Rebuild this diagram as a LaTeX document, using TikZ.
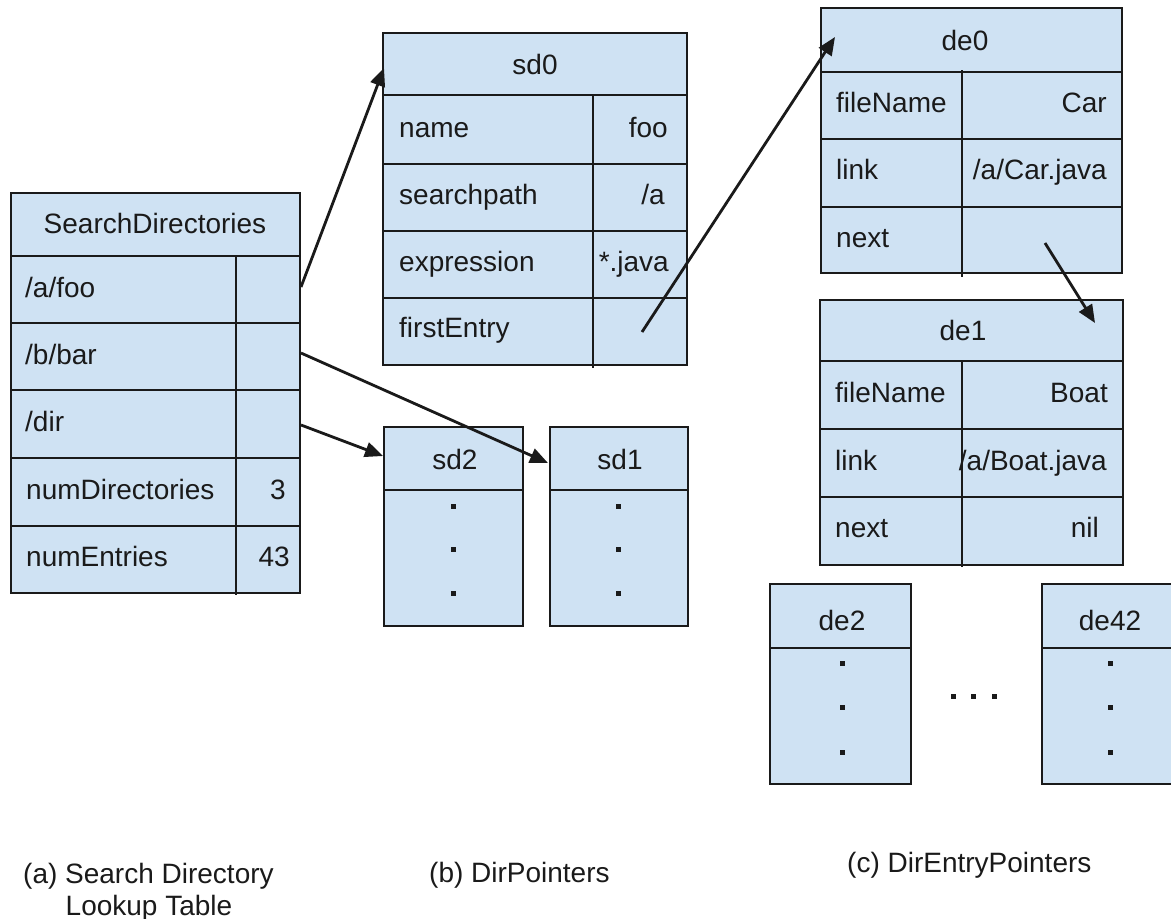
\documentclass[tikz,border=0pt]{standalone}
\usepackage{fontspec}
\setmainfont{Liberation Sans}
\usetikzlibrary{arrows.meta}
\definecolor{boxblue}{HTML}{CFE2F3}
\definecolor{ink}{HTML}{1A1A1A}
\begin{document}
\begin{tikzpicture}[x=1pt,y=-1pt,
  every node/.style={font=\fontsize{28}{32}\selectfont, text=ink},
  box/.style={draw=ink, fill=boxblue, line width=2.8pt, rectangle, inner sep=0pt, outer sep=0pt, anchor=north west},
  rule/.style={draw=ink, line width=2.6pt},
  lab/.style={anchor=base west, inner sep=0pt},
  val/.style={anchor=base east, inner sep=0pt},
  ttl/.style={anchor=base, inner sep=0pt},
  arr/.style={draw=ink, line width=2.8pt, -{Triangle[length=18pt,width=15pt]}},
  dotsq/.style={fill=ink}
]
\useasboundingbox (0,0) rectangle (1171,919);

% ---------- (a) SearchDirectories ----------
\node[box, minimum width=289pt, minimum height=400pt] (SD) at (11,193) {};
\foreach \yy in {256,323,390,458,526} \draw[rule] (11,\yy) -- (300,\yy);
\draw[rule] (236,256) -- (236,595);
\node[ttl] (SDt) at (155,233) {SearchDirectories};
\node[lab] (SDa) at (25,297) {/a/foo};
\node[lab] (SDb) at (25,364) {/b/bar};
\node[lab] (SDc) at (25,431) {/dir};
\node[lab] (SDd) at (26,499) {numDirectories};
\node[lab] (SDe) at (26,566) {numEntries};
\node[val] (SDdv) at (286,499) {3};
\node[val] (SDev) at (290,566) {43};

% ---------- (b) sd0 ----------
\node[box, minimum width=304pt, minimum height=332pt] (SD0) at (383,33) {};
\foreach \yy in {95,164,231,298} \draw[rule] (383,\yy) -- (687,\yy);
\draw[rule] (593,95) -- (593,368);
\node[ttl] (SD0t) at (535,74) {sd0};
\node[lab] (SD0a) at (399,137) {name};
\node[lab] (SD0b) at (399,204) {searchpath};
\node[lab] (SD0c) at (399,271) {expression};
\node[lab] (SD0d) at (399,337) {firstEntry};
\node[val] (SD0av) at (668,137) {foo};
\node[val] (SD0bv) at (665,204) {/a};
\node[val] (SD0cv) at (669,271) {*.java};

% sd2, sd1
\node[box, minimum width=139pt, minimum height=199pt] (SD2) at (384,427) {};
\draw[rule] (384,490) -- (523,490);
\node[ttl] (SD2t) at (455,469) {sd2};
\node[box, minimum width=138pt, minimum height=199pt] (SD1) at (550,427) {};
\draw[rule] (550,490) -- (688,490);
\node[ttl] (SD1t) at (620,469) {sd1};
\foreach \yy in {506,549,593} {
  \fill[dotsq] (450.5,\yy-2.5) rectangle (455.5,\yy+2.5);
  \fill[dotsq] (615.5,\yy-2.5) rectangle (620.5,\yy+2.5);
}

% ---------- (c) de0 ----------
\node[box, minimum width=301pt, minimum height=265pt] (DE0) at (821,8) {};
\foreach \yy in {72,139,207} \draw[rule] (821,\yy) -- (1122,\yy);
\draw[rule] (962,70) -- (962,277);
\node[ttl] (DE0t) at (965,50) {de0};
\node[lab] (DE0a) at (836,112) {fileName};
\node[lab] (DE0b) at (836,179) {link};
\node[lab] (DE0c) at (836,247) {next};
\node[val] (DE0av) at (1107,112) {Car};
\node[val] (DE0bv) at (1107,179) {/a/Car.java};

% de1
\node[box, minimum width=303pt, minimum height=265pt] (DE1) at (820,300) {};
\foreach \yy in {361,429,497} \draw[rule] (820,\yy) -- (1123,\yy);
\draw[rule] (962,360) -- (962,567);
\node[ttl] (DE1t) at (963,340) {de1};
\node[lab] (DE1a) at (835,402) {fileName};
\node[lab] (DE1b) at (835,470) {link};
\node[lab] (DE1c) at (835,537) {next};
\node[val] (DE1av) at (1108,402) {Boat};
\node[val] (DE1bv) at (1107,470) {/a/Boat.java};
\node[val] (DE1cv) at (1099,537) {nil};

% de2, de42
\node[box, minimum width=141pt, minimum height=200pt] (DE2) at (770,584) {};
\draw[rule] (770,648) -- (911,648);
\node[ttl] (DE2t) at (842,630) {de2};
\node[box, minimum width=140pt, minimum height=200pt] (DE42) at (1042,584) {};
\draw[rule] (1042,648) -- (1182,648);
\node[ttl] (DE42t) at (1110,630) {de42};
\foreach \yy in {663,707,752} {
  \fill[dotsq] (839.5,\yy-2.5) rectangle (844.5,\yy+2.5);
  \fill[dotsq] (1107.5,\yy-2.5) rectangle (1112.5,\yy+2.5);
}
\foreach \xx in {953,973,994} \fill[dotsq] (\xx-2.5,693.5) rectangle (\xx+2.5,698.5);

% ---------- connectors ----------
\coordinate (p1s) at (301,287);  \coordinate (p1e) at (384,68);
\coordinate (p2s) at (301,353);  \coordinate (p2e) at (548,463);
\coordinate (p3s) at (301,425);  \coordinate (p3e) at (383,456);
\coordinate (p4s) at (642,332);  \coordinate (p4e) at (835,37);
\coordinate (p5s) at (1045,243); \coordinate (p5e) at (1095,323);
\draw[arr] (p1s) -- (p1e);
\draw[arr] (p2s) -- (p2e);
\draw[arr] (p3s) -- (p3e);
\draw[arr] (p4s) -- (p4e);
\draw[arr] (p5s) -- (p5e);

% ---------- captions ----------
\node[lab] (capa1) at (23,883) {(a) Search Directory};
\node[ttl] (capa2) at (149,915) {Lookup Table};
\node[lab] (capb) at (429,882) {(b) DirPointers};
\node[lab] (capc) at (847,872) {(c) DirEntryPointers};
\end{tikzpicture}
\end{document}
